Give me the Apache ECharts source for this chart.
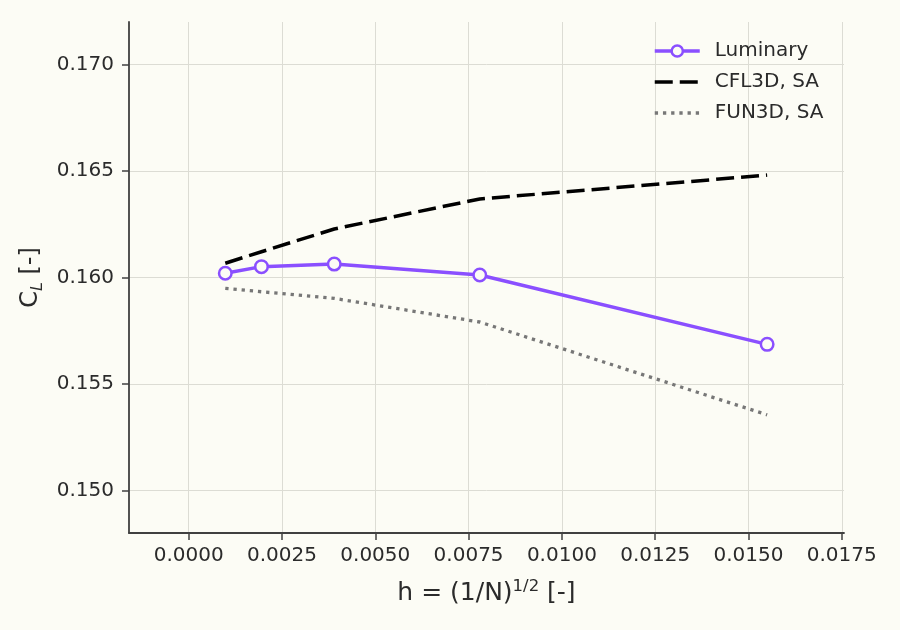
<!DOCTYPE html>
<html>
<head>
<meta charset="utf-8">
<script src="https://cdn.jsdelivr.net/npm/echarts@6/dist/echarts.min.js"></script>
<style>
html,body{margin:0;padding:0;background:#fcfcf5;}
#c{width:900px;height:630px;}
</style>
</head>
<body>
<div id="c"></div>
<script>
const h = [0.00098, 0.00195, 0.0039, 0.0078, 0.0155];
const luminary = [0.16020, 0.16051, 0.16063, 0.16012, 0.15686];
const cfl3d = [0.16067, 0.16121, 0.16228, 0.16369, 0.16481];
const fun3d = [0.15949, 0.15933, 0.15902, 0.15791, 0.15355];
const xTicks = [0, 0.0025, 0.005, 0.0075, 0.01, 0.0125, 0.015, 0.0175];
const yTicks = [0.150, 0.155, 0.160, 0.165, 0.170];
const seriesNames = ['Luminary', 'CFL3D, SA', 'FUN3D, SA'];

const bg = '#fcfcf5';
const font = 'DejaVu Sans';
const purple = '#8a4fff';
const dashPattern = [18, 7];
const dotPattern = [3.3, 4.9];
const pair = (xs, ys) => xs.map((x, i) => [x, ys[i]]);

const chart = echarts.init(document.getElementById('c'), null, {renderer: 'canvas'});
chart.setOption({
  backgroundColor: bg,
  animation: false,
  textStyle: {fontFamily: font},
  grid: {left: 129, right: 56, top: 22, bottom: 97},
  legend: {
    orient: 'vertical',
    left: 648,
    top: 36,
    itemWidth: 45,
    itemHeight: 14,
    itemGap: 11,
    data: [
      {name: seriesNames[0], lineStyle: {width: 3.5, color: purple},
       itemStyle: {color: bg, borderColor: purple, borderWidth: 2.5}},
      {name: seriesNames[1], lineStyle: {width: 3.5, color: '#000', type: dashPattern},
       itemStyle: {opacity: 0}},
      {name: seriesNames[2], lineStyle: {width: 3.5, color: '#777', type: dotPattern},
       itemStyle: {opacity: 0}}
    ],
    textStyle: {fontFamily: font, fontSize: 20, color: '#2b2b2b', padding: [0, 0, 0, 10]}
  },
  xAxis: {
    type: 'value',
    min: -0.0016,
    max: 0.01756,
    name: '{m|h = (1/N)}{s|1/2}{m| [-]}',
    nameLocation: 'middle',
    nameGap: 45,
    nameTextStyle: {
      rich: {
        m: {fontFamily: font, fontSize: 25, color: '#2b2b2b', lineHeight: 30},
        s: {fontFamily: font, fontSize: 16.5, color: '#2b2b2b', lineHeight: 18, verticalAlign: 'top'}
      }
    },
    axisLine: {show: true, onZero: false, lineStyle: {color: '#404040', width: 1.8}},
    axisTick: {show: true, customValues: xTicks, length: 7, lineStyle: {color: '#404040', width: 1.5}},
    axisLabel: {customValues: xTicks, fontFamily: font, fontSize: 20, color: '#2b2b2b', margin: 13,
      formatter: v => v.toFixed(4)},
    splitLine: {show: true, lineStyle: {color: '#dcdcd4', width: 1}}
  },
  yAxis: {
    type: 'value',
    min: 0.148,
    max: 0.172,
    name: '{m|C}{s|L}{m| [-]}',
    nameLocation: 'middle',
    nameRotate: 90,
    nameGap: 82,
    nameTextStyle: {
      rich: {
        m: {fontFamily: font, fontSize: 24, color: '#2b2b2b', lineHeight: 30},
        s: {fontFamily: font, fontSize: 16, fontStyle: 'italic', color: '#2b2b2b', lineHeight: 16, verticalAlign: 'bottom'}
      }
    },
    axisLine: {show: true, onZero: false, lineStyle: {color: '#404040', width: 1.8}},
    axisTick: {show: true, customValues: yTicks, length: 7, lineStyle: {color: '#404040', width: 1.5}},
    axisLabel: {customValues: yTicks, fontFamily: font, fontSize: 20, color: '#2b2b2b', margin: 15,
      formatter: v => v.toFixed(3)},
    splitLine: {show: true, lineStyle: {color: '#dcdcd4', width: 1}}
  },
  series: [
    {
      name: seriesNames[0],
      type: 'line',
      data: pair(h, luminary),
      symbol: 'circle',
      symbolSize: 12.5,
      showSymbol: true,
      z: 5,
      lineStyle: {color: purple, width: 3.5},
      itemStyle: {color: bg, borderColor: purple, borderWidth: 2.5}
    },
    {
      name: seriesNames[1],
      type: 'line',
      data: pair(h, cfl3d),
      symbol: 'none',
      z: 4,
      lineStyle: {color: '#000000', width: 3.5, type: dashPattern},
      itemStyle: {color: '#000000'}
    },
    {
      name: seriesNames[2],
      type: 'line',
      data: pair(h, fun3d),
      symbol: 'none',
      z: 3,
      lineStyle: {color: '#777777', width: 3.3, type: dotPattern},
      itemStyle: {color: '#777777'}
    }
  ]
});
</script>
</body>
</html>
